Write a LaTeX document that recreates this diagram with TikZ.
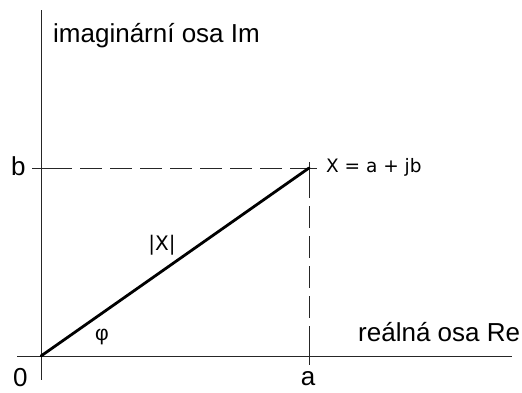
\documentclass[tikz,border=0pt]{standalone}
\usepackage{fontspec}
\setmainfont{Liberation Sans}
\newfontfamily\tah{DejaVu Sans}
\begin{document}
\begin{tikzpicture}[x=1pt,y=-1pt,
  axis/.style={line width=0.9pt,black!85},
  dashline/.style={line width=0.9pt,black!85,dash pattern=on 22pt off 8pt},
  tickl/.style={line width=0.9pt,black!85},
  vec/.style={line width=2.8pt,black},
  lbl/.style={inner sep=0pt,font=\fontsize{26}{30}\selectfont},
  lbt/.style={inner sep=0pt,font=\tah\fontsize{18.5}{22}\selectfont}]
\useasboundingbox[fill=white] (0,0) rectangle (522,392);
% coordinates
\coordinate (O) at (41,356);
\coordinate (P) at (309,168);
\coordinate (ytop) at (41,10);
\coordinate (ybot) at (41,380);
\coordinate (xl) at (17,356);
\coordinate (xr) at (512,356);
\coordinate (bL) at (32,168);
\coordinate (bT) at (50,168);
\coordinate (pL) at (298,168);
\coordinate (pR) at (317,168);
\coordinate (pT) at (309,162);
\coordinate (pB) at (309,176);
\coordinate (aT) at (309,348);
\coordinate (aB) at (309,365);
% axes
\draw[axis] (ytop) -- (ybot);
\draw[axis] (xl) -- (xr);
% dashed projections
\draw[dashline] (bT) -- (pL);
\draw[tickl] (bL) -- (bT);
\draw[tickl] (pL) -- (pR);
\draw[dashline] (pB) -- (aT);
\draw[tickl] (pT) -- (pB);
\draw[tickl] (aT) -- (aB);
% vector
\draw[vec,line cap=round] (O) -- (P);
% labels
\node[lbl,anchor=base west] (im) at (53,42) {imaginární osa Im};
\node[lbl,anchor=base west] (re) at (358,341) {reálná osa Re};
\node[lbl,anchor=base west] (b) at (11,175) {b};
\node[lbl,anchor=base] (a) at (308,385) {a};
\node[lbl,anchor=base west] (zero) at (13,386) {0};
\node[lbl,anchor=base,font=\fontsize{21}{24}\selectfont] (phi) at (102,340) {φ};
\node[lbt,anchor=base west] (X) at (326,172) {X = a + jb};
\node[lbt,anchor=base,font=\tah\fontsize{20}{24}\selectfont] (absX) at (162,250) {|X|};
\end{tikzpicture}
\end{document}
